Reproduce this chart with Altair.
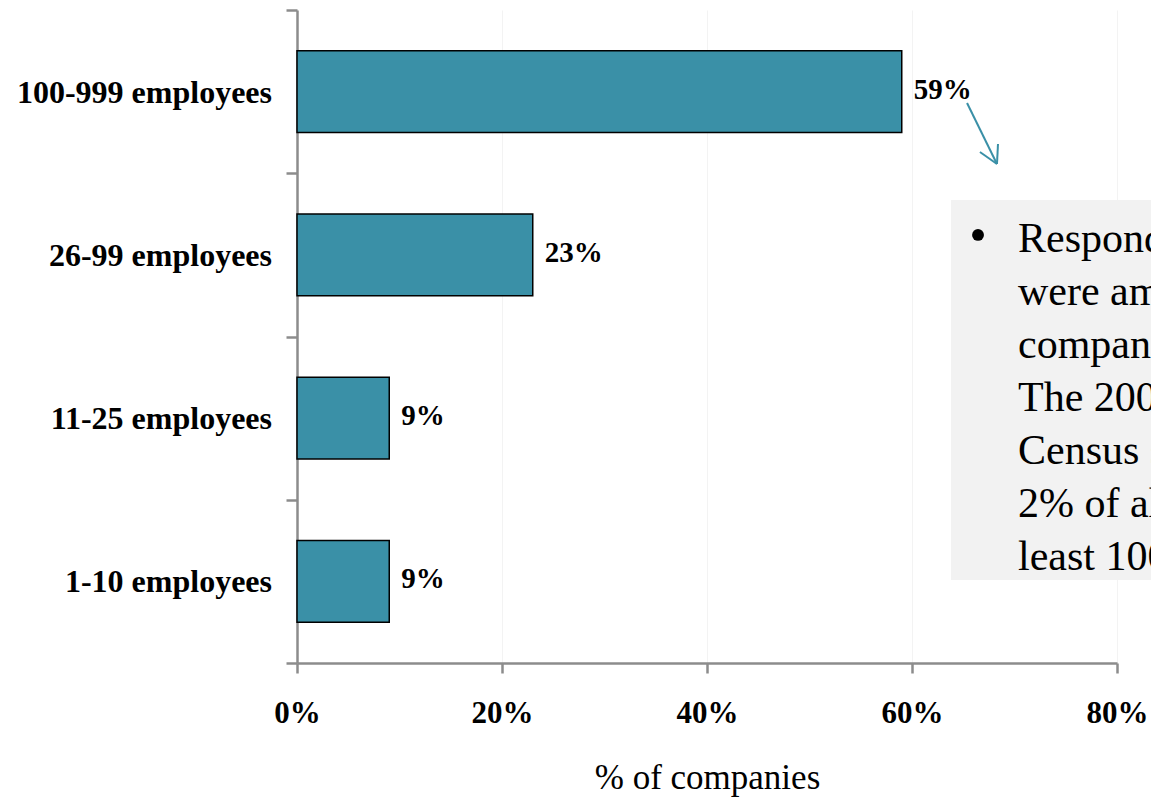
import altair as alt
import pandas as pd

# Company size bands, bottom to top, and share of responding companies (%)
categories = ["1-10 employees", "11-25 employees", "26-99 employees", "100-999 employees"]
shares = [9, 9, 23, 59]

x_ticks = [0, 20, 40, 60, 80]

note_lines = [
    "Respondents",
    "were among larger",
    "companies.",
    "The 2002 Economic",
    "Census shows only",
    "2% of all firms have at",
    "least 100 employees.",
]

TEAL = "#3A90A7"
AXIS_GREY = "#8C8C8C"
SERIF = "Liberation Serif"

n = len(categories)
bars = pd.DataFrame({
    "category": categories,
    "share": shares,
    "mid": [i + 0.5 for i in range(n)],
    "lo": [i + 0.25 for i in range(n)],
    "hi": [i + 0.75 for i in range(n)],
})
bars["label"] = bars["share"].astype(str) + "%"

x_scale = alt.Scale(domain=[0, 80], nice=False, zero=True)
y_scale = alt.Scale(domain=[0, n], nice=False, zero=True)

x_axis = alt.Axis(
    values=x_ticks,
    labelExpr="datum.value + '%'",
    labelFont=SERIF, labelFontSize=31, labelFontWeight="bold", labelColor="black",
    labelPadding=25, labelFlush=False,
    tickSize=10, tickWidth=2.5, tickColor=AXIS_GREY,
    domainColor=AXIS_GREY, domainWidth=2.5,
    grid=True, gridColor="#F3F3F3", gridWidth=1,
    title="% of companies", titleFont=SERIF, titleFontSize=35,
    titleFontWeight="normal", titleColor="black",
    titleBaseline="alphabetic", titleY=125,
)
y_axis = alt.Axis(
    values=list(range(n + 1)), labels=False,
    tickSize=11, tickWidth=2.5, tickColor=AXIS_GREY,
    domainColor=AXIS_GREY, domainWidth=2.5,
    grid=False, title=None,
)

base = alt.Chart(bars)

bar_layer = base.mark_rect(fill=TEAL, stroke="black", strokeWidth=1.5).encode(
    x=alt.X("share:Q", scale=x_scale, axis=x_axis),
    x2=alt.datum(0),
    y=alt.Y("lo:Q", scale=y_scale, axis=y_axis),
    y2="hi:Q",
)

value_labels = base.mark_text(
    align="left", baseline="middle", dx=12, dy=-2,
    font=SERIF, fontSize=29, fontWeight="bold", color="black",
).encode(x="share:Q", y="mid:Q", text="label:N")

category_labels = base.mark_text(
    align="right", baseline="middle", dx=-25, dy=1,
    font=SERIF, fontSize=32, fontWeight="bold", color="black",
).encode(x=alt.datum(0), y="mid:Q", text="category:N")

# Shaded note box to the right of the bars
note_box = pd.DataFrame({"x0": [63.8], "x1": [86.0], "y0": [0.508], "y1": [2.836]})
box_layer = alt.Chart(note_box).mark_rect(fill="#F2F2F2").encode(
    x="x0:Q", x2="x1:Q", y="y0:Q", y2="y1:Q"
)

bullet = pd.DataFrame({"x": [66.44], "y": [2.622]})
bullet_layer = alt.Chart(bullet).mark_point(
    shape="circle", filled=True, size=140, color="black", opacity=1
).encode(x="x:Q", y="y:Q")

note_anchor = pd.DataFrame({"x": [70.34], "y": [2.5176]})
note_layer = alt.Chart(note_anchor).mark_text(
    align="left", baseline="alphabetic", font=SERIF, fontSize=42,
    lineHeight=53, color="black",
).encode(x="x:Q", y="y:Q", text=alt.value(note_lines))

# Arrow from the largest bar's label towards the note
arrow = pd.DataFrame({
    "x": [65.37, 68.29, 68.29],
    "y": [3.430, 3.057, 3.057],
    "x2": [68.29, 66.63, 68.39],
    "y2": [3.057, 3.130, 3.179],
})
arrow_layer = alt.Chart(arrow).mark_rule(color=TEAL, strokeWidth=2).encode(
    x="x:Q", y="y:Q", x2="x2:Q", y2="y2:Q"
)

chart = alt.layer(
    box_layer, bar_layer, value_labels, category_labels,
    bullet_layer, note_layer, arrow_layer,
).properties(
    width=820, height=653,
    autosize=alt.AutoSizeParams(type="none"),
    padding={"left": 297, "top": 10, "right": 34, "bottom": 135},
    background="white",
).configure_view(stroke=None)

chart.save("out.html", embed_options={"renderer": "svg", "actions": False})
